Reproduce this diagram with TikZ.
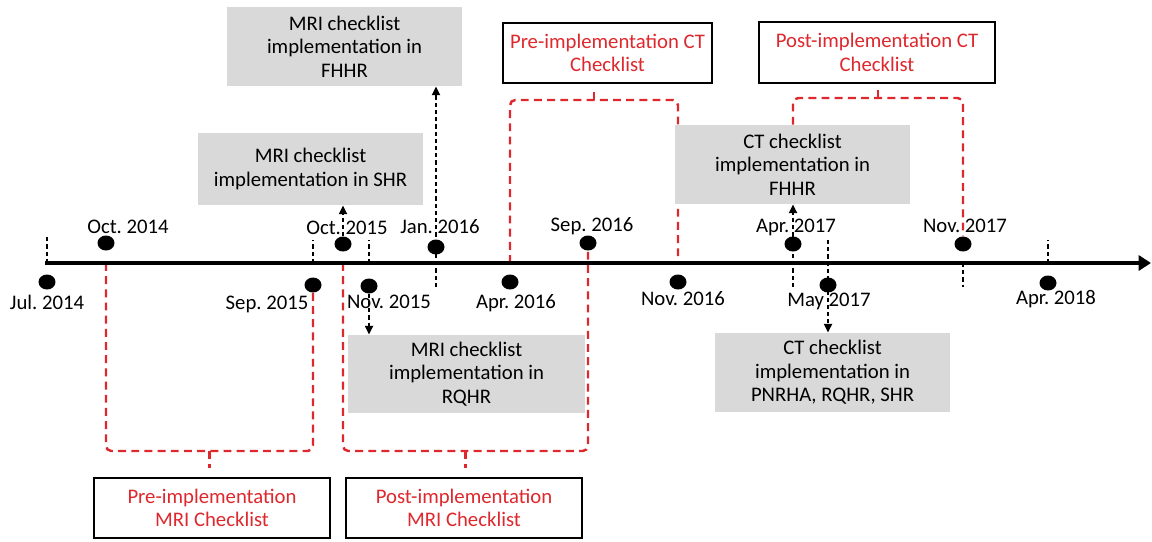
\documentclass[tikz,border=0pt]{standalone}
\usepackage{fontspec}
\setmainfont{Carlito}
\frenchspacing
\usetikzlibrary{arrows.meta}
\usetikzlibrary{shapes.geometric}
\usetikzlibrary{calc}
\usetikzlibrary{backgrounds}
\definecolor{ckred}{RGB}{222,40,45}
\definecolor{ckgray}{RGB}{217,217,217}
\tikzset{
    dot/.style={ellipse,fill=black,inner sep=0pt,minimum width=0.34cm,minimum height=0.30cm},
    datelabel/.style={font=\fontsize{11.8}{14}\selectfont,text height=8pt,text depth=0.4pt,inner sep=0pt},
    eventbox/.style={fill=ckgray,align=center,font=\fontsize{11.8}{13.4}\selectfont,inner sep=0pt},
    phasebox/.style={draw=black,line width=1.2pt,fill=white,text=ckred,align=center,font=\fontsize{11.8}{13.4}\selectfont,inner sep=0pt},
    tick/.style={dash pattern=on 2.4pt off 1.7pt,line width=1.4pt},
    pointer/.style={tick,-{Triangle[length=5pt,width=4.5pt]}},
    bracket/.style={draw=ckred,line width=1.4pt,dash pattern=on 4.5pt off 3pt,rounded corners=3pt}
}
\begin{document}
\begin{tikzpicture}[x=0.02cm,y=-0.02cm]
    \useasboundingbox (0,0) rectangle (1152,541);
    \coordinate (axL) at (45,263);
    \coordinate (axR) at (1151,263);
    \coordinate (mriB) at (0,451);
    \coordinate (preT) at (0,100);
    \coordinate (postT) at (0,98);

    % boxes
    \node[eventbox,minimum width=4.7cm,minimum height=1.58cm] (mriF) at (344.5,46.5) {MRI checklist\\implementation in\\FHHR};
    \node[eventbox,minimum width=4.5cm,minimum height=1.44cm] (mriS) at (310.5,169) {MRI checklist\\implementation in SHR};
    \node[eventbox,minimum width=4.7cm,minimum height=1.58cm] (ctF) at (792.5,164.5) {CT checklist\\implementation in\\FHHR};
    \node[eventbox,minimum width=4.74cm,minimum height=1.56cm] (mriR) at (466.5,374) {MRI checklist\\implementation in\\RQHR};
    \node[eventbox,minimum width=4.7cm,minimum height=1.58cm] (ctP) at (832.5,372.5) {CT checklist\\implementation in\\PNRHA, RQHR, SHR};
    \node[phasebox,minimum width=4.18cm,minimum height=1.2cm] (preCT) at (607.5,53) {Pre-implementation CT\\Checklist};
    \node[phasebox,minimum width=4.72cm,minimum height=1.22cm] (postCT) at (877,52.5) {Post-implementation CT\\Checklist};
    \node[phasebox,minimum width=4.72cm,minimum height=1.2cm] (preMRI) at (212,508) {Pre-implementation\\MRI Checklist};
    \node[phasebox,minimum width=4.72cm,minimum height=1.2cm] (postMRI) at (464,508) {Post-implementation\\MRI Checklist};

    % dates
    \node[dot] (jul14) at (47,282) {};
    \node[dot] (oct14) at (106,243) {};
    \node[dot] (sep15) at (313,285) {};
    \node[dot] (oct15) at (343,244) {};
    \node[dot] (nov15) at (369,286) {};
    \node[dot] (jan16) at (436,247) {};
    \node[dot] (apr16) at (510,282) {};
    \node[dot] (sep16) at (588,243) {};
    \node[dot] (nov16) at (678,282) {};
    \node[dot] (apr17) at (793,244) {};
    \node[dot] (may17) at (828,285) {};
    \node[dot] (nov17) at (963,244) {};
    \node[dot] (apr18) at (1048,283) {};

    \node[datelabel] (ljul14) at (47,303) {Jul. 2014};
    \node[datelabel] (loct14) at (128,227) {Oct. 2014};
    \node[datelabel] (lsep15) at (267,303) {Sep. 2015};
    \node[datelabel] (loct15) at (347,228) {Oct. 2015};
    \node[datelabel] (lnov15) at (389,302) {Nov. 2015};
    \node[datelabel] (ljan16) at (440,227) {Jan. 2016};
    \node[datelabel] (lapr16) at (516,302) {Apr. 2016};
    \node[datelabel] (lsep16) at (592,225) {Sep. 2016};
    \node[datelabel] (lnov16) at (683,299) {Nov. 2016};
    \node[datelabel] (lapr17) at (796,226) {Apr. 2017};
    \node[datelabel] (lmay17) at (829,300) {May 2017};
    \node[datelabel] (lnov17) at (965,226) {Nov. 2017};
    \node[datelabel] (lapr18) at (1056,298) {Apr. 2018};

    % ticks and pointers
    \draw[tick] (jul14 |- axL) -- ++(0,-26);
    \draw[tick] (sep15 |- axL) -- ++(0,-23);
    \draw[tick] (nov15 |- axL) -- ++(0,-23);
    \draw[tick] (apr18 |- axL) -- ++(0,-23);
    \draw[tick] (nov17 |- axL) -- ++(0,24);
    \draw[pointer] (oct15) -- (oct15 |- mriS.south);
    \draw[pointer] ($(jan16 |- axL)+(0,24)$) -- (jan16 |- mriF.south);
    \draw[pointer] (nov15) -- (nov15 |- mriR.north);
    \draw[pointer] ($(apr17 |- axL)+(0,24)$) -- (apr17 |- ctF.south);
    \draw[pointer] ($(may17 |- axL)+(0,-23)$) -- (may17 |- ctP.north);

    \begin{scope}[on background layer]
    % phases
    \draw[bracket] (oct14 |- axL) -- (oct14 |- mriB) -- (sep15 |- mriB) -- (sep15);
    \draw[bracket] ($(oct14 |- mriB)!0.5!(sep15 |- mriB)$) -- ++(0,17);
    \draw[bracket] (oct15 |- axL) -- (oct15 |- mriB) -- (sep16 |- mriB) -- (sep16);
    \draw[bracket] ($(oct15 |- mriB)!0.5!(sep16 |- mriB)$) -- ++(0,17);
    \draw[bracket] (apr16 |- axL) -- (apr16 |- preT) -- (nov16 |- preT) -- (nov16 |- axL);
    \draw[bracket] ($(apr16 |- preT)!0.5!(nov16 |- preT)$) -- ++(0,-11);
    \draw[bracket] (apr17 |- ctF.north) -- (apr17 |- postT) -- (nov17 |- postT) -- (nov17);
    \draw[bracket] ($(apr17 |- postT)!0.5!(nov17 |- postT)$) -- ++(0,-10);

    \draw[line width=2.6pt,-{Triangle[length=7pt,width=8.5pt]}] (axL) -- (axR);
    \end{scope}
\end{tikzpicture}
\end{document}
